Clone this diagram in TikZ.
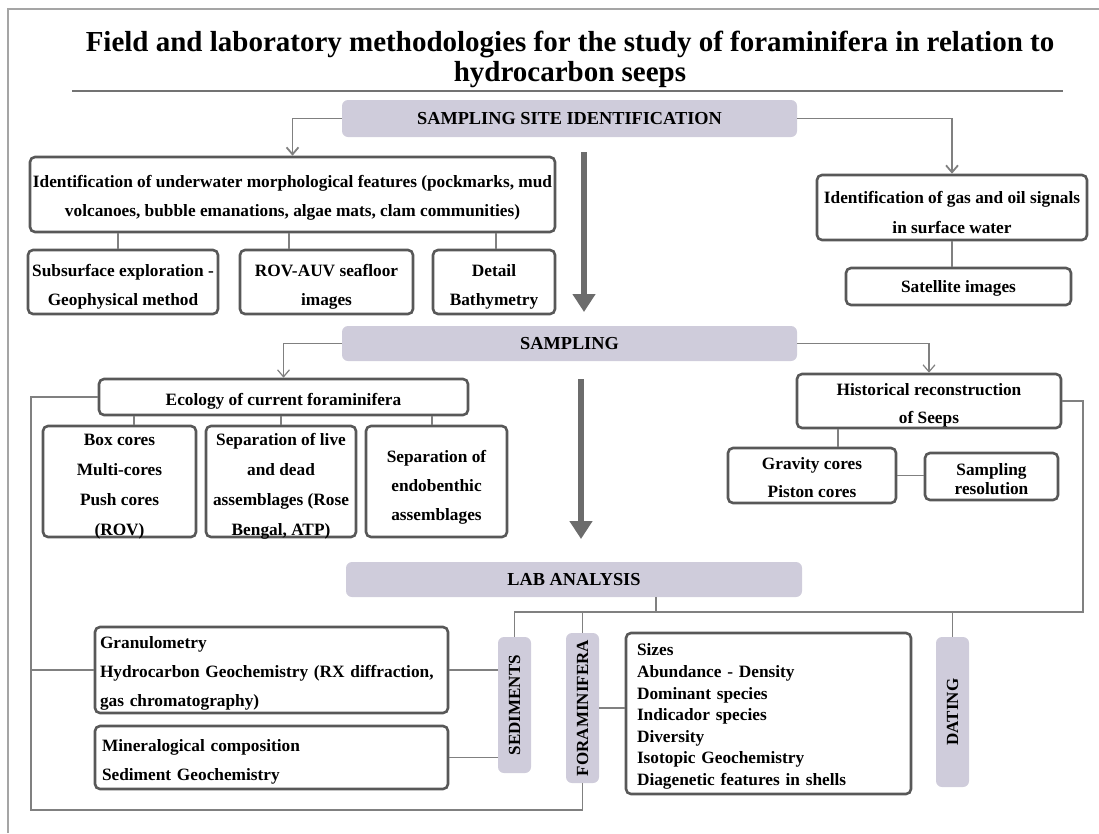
\documentclass[tikz,border=0pt]{standalone}
\usepackage{fontspec}
\setmainfont{Liberation Serif}
\usetikzlibrary{arrows.meta}
\definecolor{lav}{RGB}{207,204,219}
\definecolor{bordc}{RGB}{88,88,88}
\definecolor{connc}{RGB}{128,128,128}
\definecolor{bigc}{RGB}{108,108,108}
\definecolor{framec}{RGB}{165,165,165}
\newcommand\upstrut[1]{\rule{0pt}{#1}}
\begin{document}
\begin{tikzpicture}[x=1pt,y=-1pt,
 box/.style={draw=bordc, line width=2.6pt, rounded corners=5pt, fill=white, align=center, inner sep=1pt, font=\bfseries\fontsize{17.3}{29}\selectfont},
 hdr/.style={fill=lav, rounded corners=6pt, inner sep=0pt, font=\bfseries\fontsize{18.3}{22}\selectfont},
 vhdr/.style={fill=lav, rounded corners=6pt, inner sep=0pt, minimum width=33pt},
 vlab/.style={rotate=90, inner sep=0pt, font=\bfseries\fontsize{17}{20}\selectfont},
 conn/.style={draw=connc, line width=1.8pt},
 thinconn/.style={draw=connc, line width=1.2pt},
 arr/.style={-{Straight Barb[length=7pt,width=12pt]}},
 bigarr/.style={draw=bigc, line width=6.5pt, -{Triangle[length=18pt,width=22pt]}},
]
\useasboundingbox (0,0) rectangle (1099,833);
% frame
\draw[framec, line width=1.5pt] (8,833) -- (8,9) -- (1099,9);
% title
\node[font=\bfseries\fontsize{29}{30}\selectfont, align=center, inner sep=0pt] (title) at (570,59)
 {Field and laboratory methodologies for the study of foraminifera in relation to\\hydrocarbon seeps};
\draw[connc!90!black, line width=1.2pt] (72,91) -- (1063,91);

% headers
\node[hdr, minimum width=455pt, minimum height=37pt] (ssi) at (569.5,118.5) {SAMPLING SITE IDENTIFICATION};
\node[hdr, minimum width=455pt, minimum height=35pt] (samp) at (569.5,343.5) {SAMPLING};
\node[hdr, minimum width=456pt, minimum height=35pt] (lab) at (574,579.5) {LAB ANALYSIS};

% site identification
\node[box, minimum width=525pt, minimum height=75pt] (morph) at (292.5,194.5)
 {\upstrut{19.5pt}Identification of underwater morphological features (pockmarks, mud\\volcanoes, bubble emanations, algae mats, clam communities)};
\node[box, minimum width=190pt, minimum height=64pt] (sub) at (123,282) {\upstrut{22pt}Subsurface exploration -\\Geophysical method};
\node[box, minimum width=173pt, minimum height=64pt] (rov) at (326.5,282) {\upstrut{22pt}ROV-AUV seafloor\\images};
\node[box, minimum width=122pt, minimum height=64pt] (bat) at (494,282) {\upstrut{22pt}Detail\\Bathymetry};
\node[box, minimum width=270pt, minimum height=65pt, font=\bfseries\fontsize{17.3}{30}\selectfont] (gas) at (952,207.5) {\upstrut{22pt}Identification of gas and oil signals\\in surface water};
\node[box, minimum width=225pt, minimum height=37pt] (sat) at (958.5,286.5) {\upstrut{16pt}Satellite images};

% sampling
\node[box, minimum width=369pt, minimum height=36pt] (eco) at (283.5,397) {\upstrut{20pt}Ecology of current foraminifera};
\node[box, minimum width=153pt, minimum height=111pt, text depth=0pt, font=\bfseries\fontsize{17.3}{30}\selectfont] (cores) at (119.5,481.5) {\upstrut{18pt}Box cores\\Multi-cores\\Push cores\\(ROV)};
\node[box, minimum width=150pt, minimum height=111pt, text depth=0pt, font=\bfseries\fontsize{17.3}{30}\selectfont] (live) at (281,481.5) {\upstrut{18pt}Separation of live\\and dead\\assemblages (Rose\\Bengal, ATP)};
\node[box, minimum width=141pt, minimum height=111pt] (endo) at (436.5,481.5) {\upstrut{23pt}Separation of\\endobenthic\\assemblages};
\node[box, minimum width=264pt, minimum height=54pt, font=\bfseries\fontsize{17.3}{28}\selectfont] (hist) at (929,401) {\upstrut{20pt}Historical reconstruction\\of Seeps};
\node[box, minimum width=168pt, minimum height=55pt, font=\bfseries\fontsize{17.3}{28}\selectfont] (grav) at (812,475.5) {\upstrut{16pt}Gravity cores\\Piston cores};
\node[box, minimum width=133pt, minimum height=47pt, font=\bfseries\fontsize{17.3}{19}\selectfont] (sres) at (991.5,476.5) {\upstrut{18pt}Sampling\\resolution};

% lab analysis
\node[vhdr, minimum height=136pt, label={[vlab]center:SEDIMENTS}] (sed) at (514.5,705) {};
\node[vhdr, minimum height=150pt, label={[vlab]center:FORAMINIFERA}] (fora) at (582.5,708) {};
\node[vhdr, minimum height=150pt, label={[vlab]center:DATING}] (dat) at (952.5,712) {};
\node[box, text width=343pt, align=left, inner xsep=5pt, minimum height=86pt] (gran) at (271.5,670)
 {\upstrut{18pt}Granulometry\\Hydrocarbon Geochemistry (RX diffraction,\\gas chromatography)};
\node[box, text width=339pt, align=left, inner xsep=7pt, minimum height=63pt] (min) at (271.5,757.5)
 {\upstrut{20pt}Mineralogical composition\\Sediment Geochemistry};
\node[box, text width=263pt, align=left, inner xsep=11pt, minimum height=161pt, font=\bfseries\fontsize{17.3}{21.6}\selectfont] (flist) at (768.5,713.5)
 {\upstrut{18pt}Sizes\\Abundance - Density\\Dominant species\\Indicador species\\Diversity\\Isotopic Geochemistry\\Diagenetic features in shells};

% big arrows
\coordinate (b1s) at (584,152); \coordinate (b1e) at (584,312);
\coordinate (b2s) at (581,379); \coordinate (b2e) at (581,539);
\draw[bigarr] (b1s) -- (b1e);
\draw[bigarr] (b2s) -- (b2e);

% connectors: site identification
\draw[conn, arr] (ssi.west) -| (morph.north);
\draw[conn, arr] (ssi.east) -| (gas.north);
\draw[conn] (118,0 |- morph.south) -- (118,0 |- sub.north);
\draw[conn] (289,0 |- morph.south) -- (289,0 |- rov.north);
\draw[conn] (496,0 |- morph.south) -- (496,0 |- bat.north);
\draw[conn] (gas.south) -- (gas.south |- sat.north);

% connectors: sampling
\draw[thinconn, arr] (samp.west) -| (eco.north);
\draw[thinconn, arr] (samp.east) -| (hist.north);
\draw[conn] (134,0 |- eco.south) -- (134,0 |- cores.north);
\draw[conn] (live.north) -- (live.north |- eco.south);
\draw[conn] (432,0 |- eco.south) -- (432,0 |- endo.north);
\draw[conn] (838,0 |- hist.south) -- (838,0 |- grav.north);
\draw[conn] (grav.east) -- (grav.east -| sres.west);

% connectors: lab analysis
\coordinate (lb) at (31,810);
\coordinate (rb) at (1083,612);
\draw[conn] (eco.west) -| (lb) -| (fora.south);
\draw[conn] (gran.west) -- (gran.west -| lb);
\draw[conn] (gran.east) -- (gran.east -| sed.west);
\draw[conn] (min.east) -- (min.east -| sed.west);
\draw[conn] (fora.east) -- (fora.east -| flist.west);
\draw[conn] (hist.east) -| (rb) -| (sed.north);
\draw[conn] (fora.north) -- (fora.north |- rb);
\draw[conn] (dat.north) -- (dat.north |- rb);
\draw[conn] (656,0 |- lab.south) -- (656,0 |- rb);
\end{tikzpicture}
\end{document}
